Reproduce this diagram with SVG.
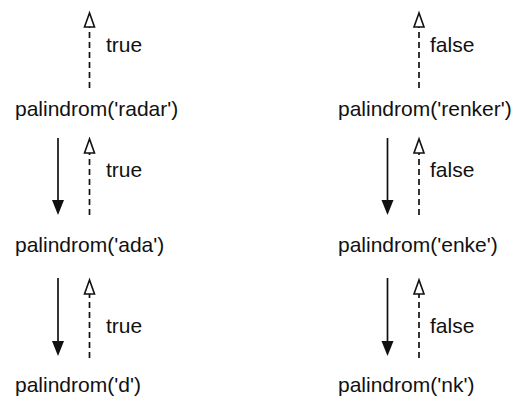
<svg xmlns="http://www.w3.org/2000/svg" width="520" height="396" viewBox="0 0 520 396">
<style>
text{font-family:"Liberation Sans",Arial,sans-serif;font-size:21px;fill:#111}
.call{stroke:#111;stroke-width:1.7;fill:none}
.ret{stroke:#111;stroke-width:1.7;fill:none;stroke-dasharray:6 4}
.head{stroke:#111;stroke-width:1.6;fill:#fff;stroke-linejoin:miter}
.fill{fill:#111}
</style>
<rect width="520" height="396" fill="#fff"/>
<g id="n-radar"><text x="15" y="116">palindrom('radar')</text></g>
<g id="n-ada"><text x="15" y="252">palindrom('ada')</text></g>
<g id="n-d"><text x="15" y="392">palindrom('d')</text></g>
<g id="n-renker"><text x="338" y="116">palindrom('renker')</text></g>
<g id="n-enke"><text x="338" y="252">palindrom('enke')</text></g>
<g id="n-nk"><text x="338" y="392">palindrom('nk')</text></g>
<g id="connectors">
<line class="ret" x1="89.5" y1="88" x2="89.5" y2="27"/><path class="head" d="M89.5,13 L84.5,27 L94.5,27 Z"/>
<text x="106" y="52">true</text>
<line class="call" x1="58" y1="138" x2="58" y2="200"/><path class="fill" d="M52,200 L64,200 L58,215 Z"/>
<line class="ret" x1="89.5" y1="215" x2="89.5" y2="153"/><path class="head" d="M89.5,139 L84.5,153 L94.5,153 Z"/>
<text x="106" y="177">true</text>
<line class="call" x1="58" y1="278" x2="58" y2="341"/><path class="fill" d="M52,341 L64,341 L58,356 Z"/>
<line class="ret" x1="89.5" y1="358" x2="89.5" y2="294"/><path class="head" d="M89.5,280 L84.5,294 L94.5,294 Z"/>
<text x="106" y="333">true</text>
<line class="ret" x1="419" y1="88" x2="419" y2="27"/><path class="head" d="M419,13 L414,27 L424,27 Z"/>
<text x="430" y="52">false</text>
<line class="call" x1="387.5" y1="138" x2="387.5" y2="200"/><path class="fill" d="M381.5,200 L393.5,200 L387.5,215 Z"/>
<line class="ret" x1="419" y1="215" x2="419" y2="153"/><path class="head" d="M419,139 L414,153 L424,153 Z"/>
<text x="430" y="177">false</text>
<line class="call" x1="387.5" y1="278" x2="387.5" y2="341"/><path class="fill" d="M381.5,341 L393.5,341 L387.5,356 Z"/>
<line class="ret" x1="419" y1="358" x2="419" y2="294"/><path class="head" d="M419,280 L414,294 L424,294 Z"/>
<text x="430" y="333">false</text>
</g>
</svg>
